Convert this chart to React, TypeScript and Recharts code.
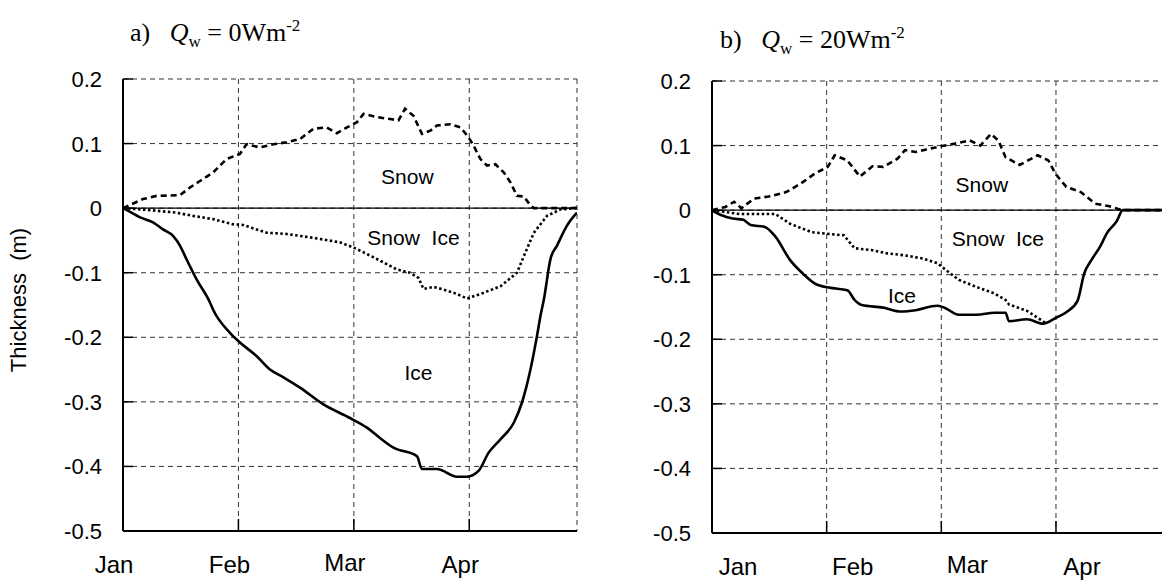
import React from 'react';
import {
  CartesianGrid,
  Line,
  LineChart,
  ReferenceDot,
  ReferenceLine,
  XAxis,
  YAxis,
} from 'recharts';

const monthTicks = [0, 30, 60, 90];
const monthLabels = ['Jan', 'Feb', 'Mar', 'Apr'];
const thicknessTicks = [0.2, 0.1, 0, -0.1, -0.2, -0.3, -0.4, -0.5];

// a) Qw = 0 W m-2  (x in days from 1 Jan)
const snowDaysA = [0, 5.2, 8.7, 14.8, 17.4, 20.0, 23.4, 26.9, 30.4, 32.1, 35.6, 39.1, 42.5, 46.0, 49.5, 52.9, 55.6, 58.2, 60.8, 62.5, 66.0, 69.4, 71.6, 73.3, 75.5, 77.7, 79.9, 81.6, 85.1, 87.7, 89.8, 91.1, 92.9, 94.6, 96.8, 99.0, 100.7, 102.4, 104.2, 105.9, 106.8, 118];
const snowA = [0, 0.014, 0.019, 0.02, 0.032, 0.042, 0.055, 0.076, 0.084, 0.099, 0.094, 0.099, 0.102, 0.107, 0.123, 0.125, 0.116, 0.125, 0.133, 0.146, 0.141, 0.138, 0.136, 0.154, 0.143, 0.115, 0.12, 0.128, 0.13, 0.125, 0.11, 0.097, 0.076, 0.066, 0.068, 0.055, 0.04, 0.019, 0.018, 0.004, 0, 0];

const snowIceDaysA = [0, 6.9, 13.9, 18.2, 23.4, 28.6, 31.2, 34.7, 37.3, 42.5, 49.5, 56.4, 59.9, 63.4, 67.7, 71.2, 74.6, 76.8, 78.1, 80.7, 83.3, 86.8, 89.4, 92.9, 98.1, 102.4, 104.2, 106.8, 110.2, 113.7, 117.2, 118];
const snowIceA = [0, -0.003, -0.007, -0.012, -0.017, -0.025, -0.026, -0.033, -0.038, -0.04, -0.046, -0.053, -0.061, -0.071, -0.084, -0.095, -0.1, -0.108, -0.125, -0.122, -0.126, -0.133, -0.14, -0.133, -0.121, -0.1, -0.074, -0.038, -0.012, -0.002, 0, 0];

const iceDaysA = [0, 2.2, 4.3, 7.8, 10.4, 13.0, 14.8, 16.5, 19.1, 22.6, 23.4, 27.8, 30.4, 34.7, 38.2, 41.7, 46.0, 52.1, 59.0, 63.4, 66.8, 70.3, 76.4, 77.7, 81.6, 86.8, 89.4, 92.4, 95.0, 98.1, 101.6, 103.7, 105.9, 107.6, 108.5, 109.4, 111.1, 112.8, 115.4, 118];
const iceA = [0, -0.007, -0.014, -0.022, -0.033, -0.043, -0.058, -0.079, -0.11, -0.146, -0.157, -0.193, -0.208, -0.229, -0.25, -0.262, -0.278, -0.304, -0.325, -0.34, -0.356, -0.371, -0.384, -0.404, -0.404, -0.416, -0.416, -0.407, -0.379, -0.358, -0.332, -0.301, -0.25, -0.198, -0.167, -0.141, -0.079, -0.058, -0.027, -0.007];

// b) Qw = 20 W m-2
const snowDaysB = [0, 3.5, 5.8, 7.7, 11.0, 14.8, 19.4, 23.2, 27.0, 30.3, 32.1, 35.4, 38.7, 42.0, 44.8, 48.6, 50.5, 53.3, 56.1, 59.9, 63.6, 67.4, 70.2, 73.0, 74.9, 76.8, 80.5, 85.2, 88.0, 89.9, 92.7, 96.5, 100.3, 104.0, 107.3, 118];
const snowB = [0, 0.005, 0.013, 0.003, 0.018, 0.021, 0.028, 0.041, 0.057, 0.067, 0.085, 0.077, 0.052, 0.068, 0.067, 0.08, 0.093, 0.09, 0.094, 0.099, 0.103, 0.108, 0.1, 0.118, 0.108, 0.082, 0.07, 0.085, 0.077, 0.056, 0.036, 0.028, 0.01, 0.006, 0, 0];

const snowIceDaysB = [0, 7.2, 16.6, 20.4, 26.0, 30.7, 34.5, 37.3, 42.0, 45.8, 50.5, 55.2, 58.9, 61.7, 64.6, 69.2, 73.9, 76.8, 77.7, 82.4, 87.1];
const snowIceB = [0, -0.006, -0.006, -0.021, -0.034, -0.037, -0.039, -0.059, -0.062, -0.067, -0.07, -0.075, -0.082, -0.095, -0.108, -0.119, -0.129, -0.139, -0.146, -0.156, -0.174];

const iceDaysB = [0, 2.5, 5.4, 8.2, 10.1, 13.8, 16.6, 20.4, 24.1, 27.0, 30.7, 35.4, 37.3, 39.2, 44.8, 49.5, 53.3, 58.9, 60.8, 64.6, 69.2, 73.9, 76.8, 77.7, 82.4, 86.6, 89.9, 92.7, 95.6, 97.4, 99.3, 101.5, 103.3, 105.9, 107.5, 118];
const iceB = [0, -0.008, -0.013, -0.015, -0.023, -0.026, -0.041, -0.077, -0.1, -0.114, -0.12, -0.124, -0.139, -0.147, -0.151, -0.157, -0.155, -0.148, -0.151, -0.162, -0.162, -0.159, -0.159, -0.172, -0.169, -0.176, -0.167, -0.158, -0.141, -0.098, -0.077, -0.057, -0.036, -0.017, 0, 0];

const SANS = 'Arial, "Liberation Sans", sans-serif';
const SERIF = '"Times New Roman", "Liberation Serif", serif';

const toPoints = (days: number[], vals: number[]) => days.map((d, i) => ({ d, v: vals[i] }));

function YTick({ x, y, payload }: any) {
  return (
    <g>
      <line x1={x} x2={x + 10} y1={y} y2={y} stroke="#000" strokeWidth={1.5} />
      <text x={x - 21} y={y + 8} textAnchor="end" fontSize={22} fontFamily={SANS} fill="#000">
        {String(payload.value)}
      </text>
    </g>
  );
}

const makeXTick = (dx: number) =>
  function XTick({ x, y, payload, index }: any) {
    const label = monthLabels[index] ?? '';
    return (
      <g>
        <line x1={x} x2={x} y1={y} y2={y - 12} stroke="#000" strokeWidth={1.5} />
        <text
          x={x + dx}
          y={y + (label === 'Mar' ? 40 : 42)}
          textAnchor="middle"
          fontSize={24}
          fontFamily={SANS}
          fill="#000"
        >
          {label}
        </text>
      </g>
    );
  };

interface PanelProps {
  snow: { d: number; v: number }[];
  snowIce: { d: number; v: number }[];
  ice: { d: number; v: number }[];
  width: number;
  margin: { top: number; right: number; bottom: number; left: number };
  tickDx: number;
  notes: { x: number; y: number; text: string }[];
}

function ThicknessPanel({ snow, snowIce, ice, width, margin, tickDx, notes }: PanelProps) {
  const XTick = makeXTick(tickDx);
  return (
    <LineChart width={width} height={582} margin={margin}>
      <CartesianGrid stroke="#333" strokeDasharray="5 4" strokeWidth={1} />
      <XAxis
        type="number"
        dataKey="d"
        domain={[0, 118]}
        ticks={monthTicks}
        allowDataOverflow
        height={40}
        tickSize={0}
        tickMargin={0}
        tickLine={false}
        axisLine={{ stroke: '#000', strokeWidth: 2 }}
        tick={<XTick />}
        interval={0}
      />
      <YAxis
        type="number"
        domain={[-0.5, 0.2]}
        ticks={thicknessTicks}
        allowDataOverflow
        width={60}
        tickSize={0}
        tickMargin={0}
        tickLine={false}
        axisLine={{ stroke: '#000', strokeWidth: 2 }}
        tick={<YTick />}
        interval={0}
      />
      <ReferenceLine y={0} stroke="#000" strokeWidth={1.3} />
      <Line data={snow} dataKey="v" type="linear" stroke="#000" strokeWidth={2.6} strokeDasharray="6 4" dot={false} isAnimationActive={false} />
      <Line data={snowIce} dataKey="v" type="linear" stroke="#000" strokeWidth={2.6} strokeDasharray="2.5 2.5" dot={false} isAnimationActive={false} />
      <Line data={ice} dataKey="v" type="monotone" stroke="#000" strokeWidth={2.6} dot={false} isAnimationActive={false} />
      {notes.map((n) => (
        <ReferenceDot
          key={n.text}
          x={n.x}
          y={n.y}
          r={1}
          fill="none"
          stroke="none"
          label={{ value: n.text, position: 'center', fontSize: 21, fontFamily: SANS, fill: '#000' }}
        />
      ))}
    </LineChart>
  );
}

function Title({ left, top, tag, value }: { left: number; top: number; tag: string; value: string }) {
  return (
    <div style={{ position: 'absolute', left, top, fontFamily: SERIF, fontSize: 26, lineHeight: 1, whiteSpace: 'pre', color: '#000' }}>
      {tag}
      {'   '}
      <i>Q</i>
      <sub style={{ fontSize: 17 }}>w</sub> = {value}Wm<sup style={{ fontSize: 17 }}>-2</sup>
    </div>
  );
}

export default function App() {
  return (
    <div style={{ position: 'absolute', left: 0, top: 0, width: 1162, height: 582, background: '#fff', overflow: 'hidden' }}>
      <div style={{ position: 'absolute', left: 0, top: 0 }}>
        <ThicknessPanel
          snow={toPoints(snowDaysA, snowA)}
          snowIce={toPoints(snowIceDaysA, snowIceA)}
          ice={toPoints(iceDaysA, iceA)}
          width={600}
          margin={{ top: 79, right: 23, bottom: 11, left: 63 }}
          tickDx={-9}
          notes={[
            { x: 73.9, y: 0.049, text: 'Snow' },
            { x: 75.5, y: -0.046, text: 'Snow\u00a0 Ice' },
            { x: 76.8, y: -0.255, text: 'Ice' },
          ]}
        />
      </div>
      <div style={{ position: 'absolute', left: 600, top: 0 }}>
        <ThicknessPanel
          snow={toPoints(snowDaysB, snowB)}
          snowIce={toPoints(snowIceDaysB, snowIceB)}
          ice={toPoints(iceDaysB, iceB)}
          width={563}
          margin={{ top: 81, right: 0, bottom: 9, left: 52 }}
          tickDx={26}
          notes={[
            { x: 70.6, y: 0.04, text: 'Snow' },
            { x: 74.8, y: -0.044, text: 'Snow\u00a0 Ice' },
            { x: 49.7, y: -0.133, text: 'Ice' },
          ]}
        />
      </div>
      <Title left={130} top={17} tag="a)" value="0" />
      <Title left={720} top={24} tag="b)" value="20" />
      <svg style={{ position: 'absolute', left: 0, top: 0 }} width={60} height={582}>
        <text transform="translate(26,300) rotate(-90)" textAnchor="middle" fontSize={22} fontFamily={SANS} fill="#000" style={{ whiteSpace: 'pre' }}>
          Thickness  (m)
        </text>
      </svg>
    </div>
  );
}
